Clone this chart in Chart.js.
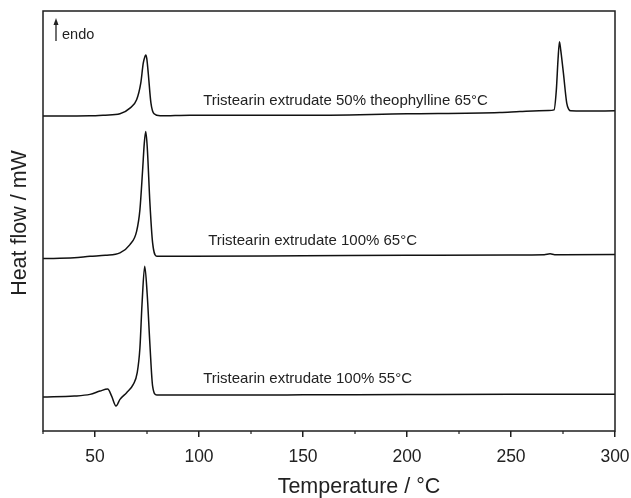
<!DOCTYPE html>
<html lang="en">
<head>
    <meta charset="UTF-8">
    <title>DSC Tristearin extrudates</title>
    <script src="https://cdn.jsdelivr.net/npm/chart.js"></script>
    <style>
        body { margin: 0; background: #fff; }
        #wrap { width: 631px; height: 498px; }
    </style>
</head>
<body>
    <div id="wrap"><canvas id="dsc" width="631" height="498"></canvas></div>

    <script>
        // x tick labels (major every 50, minor between)
        const tickLabels = [50, 100, 150, 200, 250, 300];

        // Tristearin extrudate 50% theophylline 65°C
        const tempTop = [25, 35, 47.6, 55, 62, 66.8, 70, 72, 73.2, 74, 74.4, 74.9, 75.6, 76.9, 78.4, 81.3, 95.7,
            148.6, 200, 244.7, 254.3, 268, 270.7, 271.8, 272.6, 273.3, 273.9, 275.2, 276.8, 277.8, 278.7, 285, 300];
        const flowTop = [31.54, 31.55, 31.57, 31.64, 31.77, 32.34, 33.17, 34.84, 36.84, 37.5, 37.67, 37.3, 35.84, 32.84, 31.77, 31.57, 31.64,
            31.62, 31.77, 31.9, 32.0, 32.1, 32.17, 34.17, 37.17, 39.0, 38.17, 35.84, 32.84, 32.22, 32.07, 32.05, 32.07];

        // Tristearin extrudate 100% 65°C
        const tempMid = [25, 40, 47.6, 55, 62, 66.8, 70, 71.6, 72.9, 73.7, 74.4, 75.1, 76.4, 77.7, 79.7, 95.7,
            150, 200, 250, 266, 268.8, 271, 300];
        const flowMid = [17.27, 17.35, 17.5, 17.6, 17.84, 18.67, 20.0, 22.17, 26.17, 28.84, 30.0, 28.5, 22.84, 18.84, 17.5, 17.5,
            17.55, 17.6, 17.64, 17.66, 17.75, 17.66, 17.67];

        // Tristearin extrudate 100% 55°C
        const tempLow = [25, 40, 47.6, 52.4, 56.1, 58, 60.1, 62, 65.2, 68.4, 70.3, 71.6, 72.6, 73.9, 75.1, 76.4, 77.7, 79.7, 95.7,
            150, 200, 250, 300];
        const flowLow = [3.4, 3.5, 3.67, 4.0, 4.2, 3.5, 2.5, 3.17, 3.84, 4.67, 5.84, 8.34, 12.67, 16.5, 13.67, 8.67, 4.5, 3.6, 3.6,
            3.62, 3.65, 3.67, 3.67];

        const curveLabels = [
            'Tristearin extrudate 50% theophylline 65°C',
            'Tristearin extrudate 100% 65°C',
            'Tristearin extrudate 100% 55°C'
        ];

        const toPoints = (xs, ys) => xs.map((x, i) => ({ x: x, y: ys[i] }));
        const fontName = '"Liberation Sans", Arial, sans-serif';
        const ink = '#1e1e1e';

        // texts placed in data units: [label, T, flow]
        const notes = [
            [curveLabels[0], 102, 32.7],
            [curveLabels[1], 104.4, 18.67],
            [curveLabels[2], 102, 4.77]
        ];

        const decorPlugin = {
            id: 'decor',
            afterDraw(chart) {
                const ctx = chart.ctx;
                const a = chart.chartArea;
                const xs = chart.scales.x;
                const ys = chart.scales.y;
                ctx.save();

                // frame
                ctx.strokeStyle = ink;
                ctx.lineWidth = 1.5;
                ctx.strokeRect(a.left, a.top, a.right - a.left, a.bottom - a.top);

                // minor ticks
                ctx.lineWidth = 1.2;
                xs.ticks.forEach(t => {
                    if (t.value % 50 !== 0) {
                        const px = xs.getPixelForValue(t.value);
                        ctx.beginPath();
                        ctx.moveTo(px, a.bottom);
                        ctx.lineTo(px, a.bottom + 3);
                        ctx.stroke();
                    }
                });

                // curve labels
                ctx.fillStyle = '#222';
                ctx.font = '15px ' + fontName;
                ctx.textBaseline = 'alphabetic';
                ctx.textAlign = 'left';
                notes.forEach(n => {
                    ctx.fillText(n[0], xs.getPixelForValue(n[1]), ys.getPixelForValue(n[2]));
                });

                // endo arrow
                const ax = a.left + 13;
                ctx.strokeStyle = '#222';
                ctx.lineWidth = 1.3;
                ctx.beginPath();
                ctx.moveTo(ax, a.top + 30);
                ctx.lineTo(ax, a.top + 11);
                ctx.stroke();
                ctx.beginPath();
                ctx.moveTo(ax, a.top + 7);
                ctx.lineTo(ax - 2.5, a.top + 14);
                ctx.lineTo(ax + 2.5, a.top + 14);
                ctx.closePath();
                ctx.fill();
                ctx.font = '14.5px ' + fontName;
                ctx.fillText('endo', a.left + 19, a.top + 28);

                // axis titles
                ctx.font = '21.5px ' + fontName;
                ctx.textAlign = 'center';
                ctx.textBaseline = 'middle';
                ctx.fillText('Temperature / °C', a.left + 316, a.bottom + 56);
                ctx.translate(20, (a.top + a.bottom) / 2 + 2);
                ctx.rotate(-Math.PI / 2);
                ctx.fillText('Heat flow / mW', 0, 0);
                ctx.restore();
            }
        };

        const lineStyle = {
            borderColor: '#111',
            borderWidth: 1.5,
            pointRadius: 0,
            fill: false,
            cubicInterpolationMode: 'monotone'
        };

        new Chart(document.getElementById('dsc'), {
            type: 'line',
            data: {
                datasets: [
                    Object.assign({ label: curveLabels[0], data: toPoints(tempTop, flowTop) }, lineStyle),
                    Object.assign({ label: curveLabels[1], data: toPoints(tempMid, flowMid) }, lineStyle),
                    Object.assign({ label: curveLabels[2], data: toPoints(tempLow, flowLow) }, lineStyle)
                ]
            },
            options: {
                responsive: false,
                animation: false,
                layout: { padding: { left: 43, top: 11, right: 16, bottom: 20 } },
                plugins: {
                    legend: { display: false },
                    tooltip: { enabled: false }
                },
                scales: {
                    x: {
                        type: 'linear',
                        min: 25,
                        max: 300,
                        border: { display: false },
                        afterFit: s => { s.paddingLeft = 0; s.paddingRight = 0; },
                        grid: {
                            drawOnChartArea: false,
                            drawTicks: true,
                            tickLength: 6,
                            lineWidth: 1.5,
                            tickColor: c => (c.tick && c.tick.value % 50 === 0) ? ink : 'rgba(0,0,0,0)'
                        },
                        ticks: {
                            stepSize: 25,
                            autoSkip: false,
                            maxRotation: 0,
                            padding: 10,
                            color: '#222',
                            font: { family: fontName, size: 17.5 },
                            callback: v => tickLabels.includes(v) ? String(v) : ''
                        }
                    },
                    y: {
                        display: false,
                        min: 0,
                        max: 42.07
                    }
                }
            },
            plugins: [decorPlugin]
        });
    </script>
</body>
</html>
